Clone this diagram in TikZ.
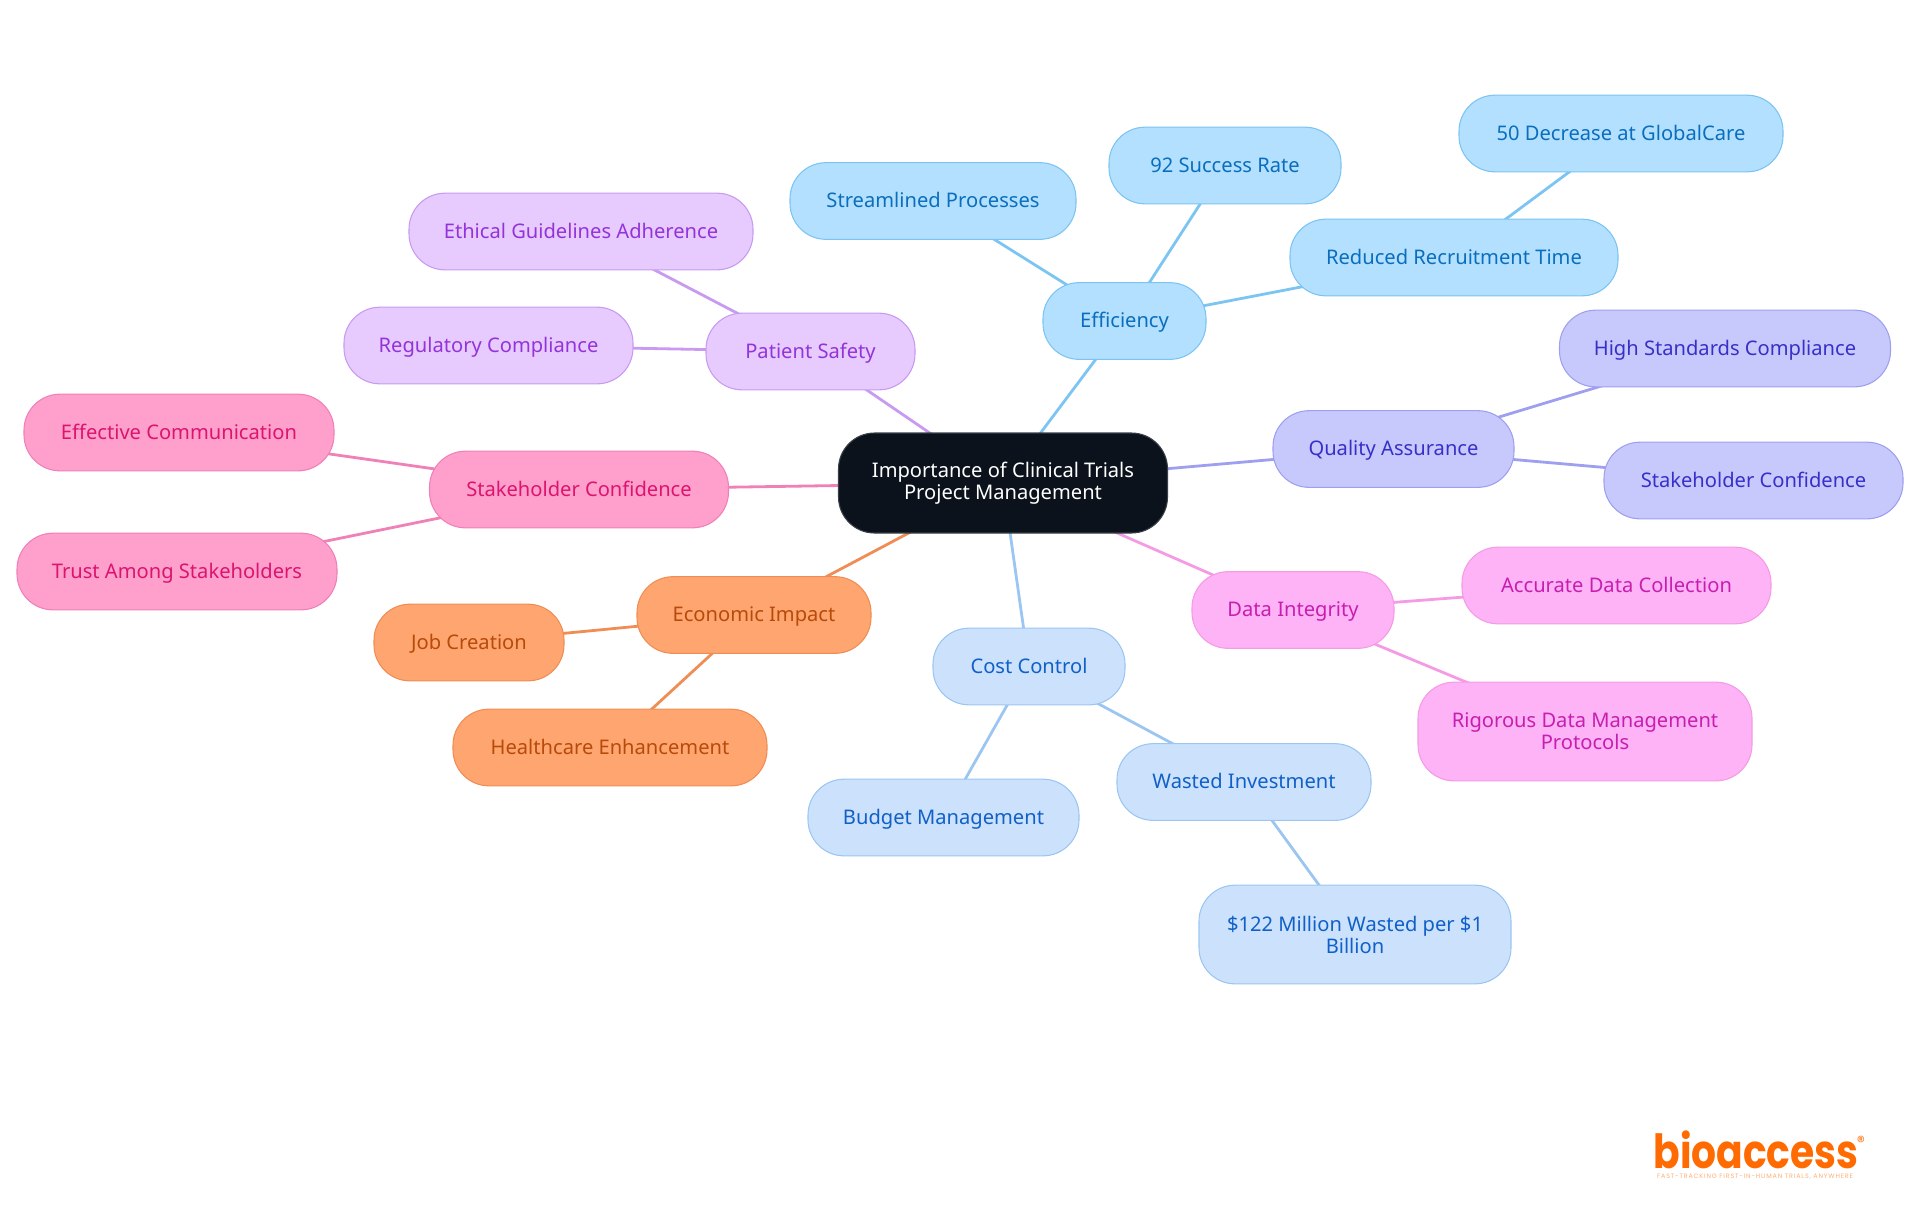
\documentclass[tikz,border=0pt]{standalone}
\usepackage{fontspec}
\setmainfont{Noto Sans}
\newfontfamily\logofont{Poppins}
\newfontfamily\tagfont[LetterSpace=13]{Poppins}
\usetikzlibrary{backgrounds}
\definecolor{rootfill}{HTML}{0B121B}
\definecolor{rootedge}{HTML}{3A4048}
\definecolor{efffill}{HTML}{B3E0FF}
\definecolor{effedge}{HTML}{7CC4F2}
\definecolor{efftext}{HTML}{0A6EBD}
\definecolor{qualfill}{HTML}{C7C9FD}
\definecolor{qualedge}{HTML}{9E9FEF}
\definecolor{qualtext}{HTML}{3730C8}
\definecolor{datafill}{HTML}{FDB3F5}
\definecolor{dataedge}{HTML}{F49BE4}
\definecolor{datatext}{HTML}{C81EB0}
\definecolor{costfill}{HTML}{CCE2FC}
\definecolor{costedge}{HTML}{9CC6F2}
\definecolor{costtext}{HTML}{1060C8}
\definecolor{econfill}{HTML}{FFA570}
\definecolor{econedge}{HTML}{F08D55}
\definecolor{econtext}{HTML}{B84A0A}
\definecolor{stakefill}{HTML}{FF9FCB}
\definecolor{stakeedge}{HTML}{F080B8}
\definecolor{staketext}{HTML}{DB1470}
\definecolor{safefill}{HTML}{E7CBFF}
\definecolor{safeedge}{HTML}{C89AF0}
\definecolor{safetext}{HTML}{9333D9}
\definecolor{logoorange}{HTML}{FF6B00}
\tikzset{
    topic/.style={draw,line width=0.8pt,rounded corners=27pt,inner sep=0pt,align=center,
        minimum height=57.5pt,text height=13.3pt,text depth=3.5pt,
        font=\fontsize{15.1}{16.5}\selectfont},
    tall/.style={minimum height=74pt,text height=,text depth=},
    wd/.style={minimum width=#1*0.75pt},
    rootbox/.style={topic,tall,fill=rootfill,draw=rootedge,text=white,minimum height=75pt},
    effbox/.style={topic,fill=efffill,draw=effedge,text=efftext},
    qualbox/.style={topic,fill=qualfill,draw=qualedge,text=qualtext},
    databox/.style={topic,fill=datafill,draw=dataedge,text=datatext},
    costbox/.style={topic,fill=costfill,draw=costedge,text=costtext},
    econbox/.style={topic,fill=econfill,draw=econedge,text=econtext},
    stakebox/.style={topic,fill=stakefill,draw=stakeedge,text=staketext},
    safebox/.style={topic,fill=safefill,draw=safeedge,text=safetext},
    effline/.style={effedge,line width=2.1pt},
    qualline/.style={qualedge,line width=2.1pt},
    dataline/.style={dataedge,line width=2.1pt},
    costline/.style={costedge,line width=2.1pt},
    econline/.style={econedge,line width=2.1pt},
    stakeline/.style={stakeedge,line width=2.1pt},
    safeline/.style={safeedge,line width=2.1pt},
}
\begin{document}
\begin{tikzpicture}[x=0.75pt,y=-0.75pt]
    \useasboundingbox (0,0) rectangle (1920,1215);

    \node[rootbox,wd=329] (root) at (1003,483) {Importance of Clinical Trials\\Project Management};

    \node[effbox,wd=163] (efficiency) at (1124.5,321) {Efficiency};
    \node[effbox,wd=286] (streamlined) at (933,201) {Streamlined Processes};
    \node[effbox,wd=232] (success) at (1225,165.5) {92 Success Rate};
    \node[effbox,wd=328] (recruitment) at (1454,257.5) {Reduced Recruitment Time};
    \node[effbox,wd=324] (globalcare) at (1621,133.5) {50 Decrease at GlobalCare};

    \node[qualbox,wd=241] (quality) at (1393.5,449) {Quality Assurance};
    \node[qualbox,wd=331] (standards) at (1725,348.5) {High Standards Compliance};
    \node[qualbox,wd=299] (confidence) at (1753.5,480.5) {Stakeholder Confidence};

    \node[databox,wd=202] (integrity) at (1293,610) {Data Integrity};
    \node[databox,wd=309] (accurate) at (1616.5,585.5) {Accurate Data Collection};
    \node[databox,wd=334,tall] (rigorous) at (1585,731.5) {Rigorous Data Management\\Protocols};

    \node[costbox,wd=192] (cost) at (1029,666.5) {Cost Control};
    \node[costbox,wd=271] (budget) at (943.5,817.5) {Budget Management};
    \node[costbox,wd=254] (wasted) at (1244,782) {Wasted Investment};
    \node[costbox,wd=312,tall] (million) at (1355,934.5) {\$122 Million Wasted per \$1\\Billion};

    \node[econbox,wd=234] (economic) at (754,615) {Economic Impact};
    \node[econbox,wd=190] (jobs) at (469,642.5) {Job Creation};
    \node[econbox,wd=314] (healthcare) at (610,747.5) {Healthcare Enhancement};

    \node[stakebox,wd=299] (stakeholder) at (579,489.5) {Stakeholder Confidence};
    \node[stakebox,wd=310] (communication) at (179,432.5) {Effective Communication};
    \node[stakebox,wd=320] (trust) at (177,571.5) {Trust Among Stakeholders};

    \node[safebox,wd=209] (safety) at (810.5,351.5) {Patient Safety};
    \node[safebox,wd=289] (regulatory) at (488.5,345.5) {Regulatory Compliance};
    \node[safebox,wd=344] (ethical) at (581,231.5) {Ethical Guidelines Adherence};

    % connectors run centre to centre behind the boxes
    \begin{scope}[on background layer]
        \foreach \from/\to/\tone in {root/efficiency/effline,efficiency/streamlined/effline,
            efficiency/success/effline,efficiency/recruitment/effline,recruitment/globalcare/effline,
            root/quality/qualline,quality/standards/qualline,quality/confidence/qualline,
            root/integrity/dataline,integrity/accurate/dataline,integrity/rigorous/dataline,
            root/cost/costline,cost/budget/costline,cost/wasted/costline,wasted/million/costline,
            root/economic/econline,economic/jobs/econline,economic/healthcare/econline,
            root/stakeholder/stakeline,stakeholder/communication/stakeline,stakeholder/trust/stakeline,
            root/safety/safeline,safety/regulatory/safeline,safety/ethical/safeline}
            \draw[\tone] (\from.center) -- (\to.center);
    \end{scope}

    % logo
    \node[inner sep=0pt,text=logoorange,yscale=1.2,transform shape,font=\logofont\bfseries\fontsize{29.4}{30}\selectfont] (logo) at (1756,1150) {bioaccess};
    \node[inner sep=0pt,text=logoorange,font=\logofont\fontsize{12}{12}\selectfont] (regmark) at (1861,1142) {®};
    \node[inner sep=0pt,text=logoorange!55,font=\tagfont\fontsize{4.8}{5}\selectfont] (tagline) at (1755,1177) {FAST-TRACKING FIRST-IN-HUMAN TRIALS, ANYWHERE};
\end{tikzpicture}
\end{document}
